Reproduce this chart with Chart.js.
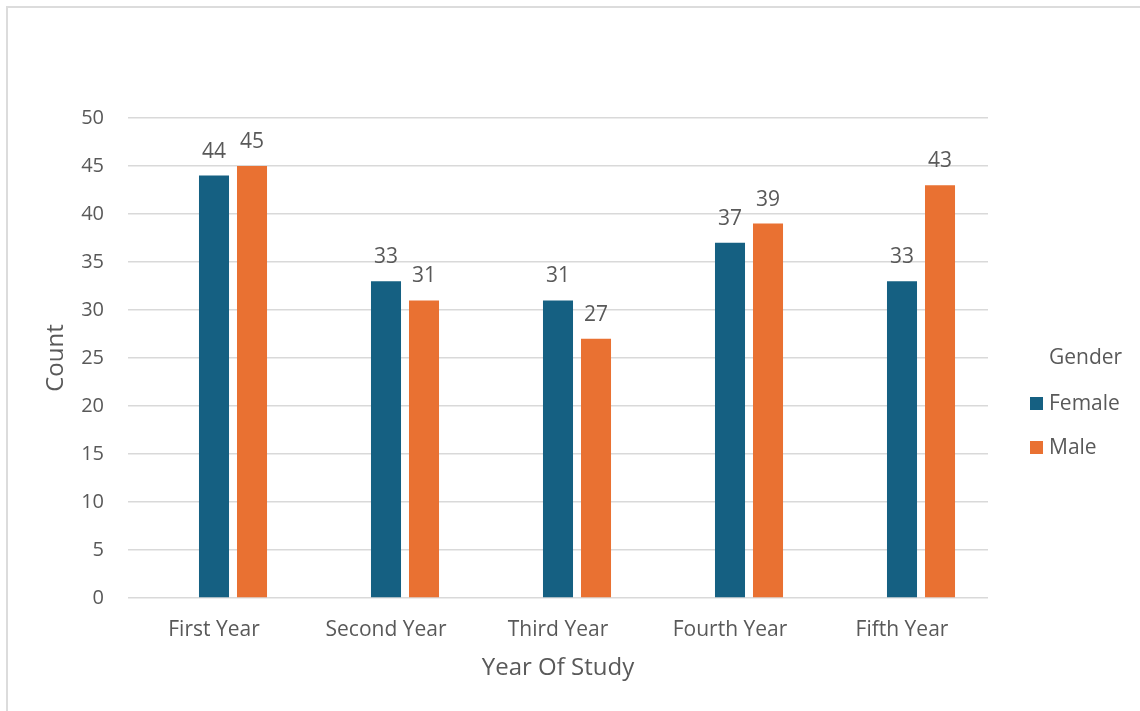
<!DOCTYPE html>
<html>
<head>
<meta charset="utf-8">
<script src="https://cdn.jsdelivr.net/npm/chart.js@4.4.1/dist/chart.umd.min.js"></script>
<style>
  html, body { margin: 0; padding: 0; background: #fff; }
  body { width: 1140px; height: 711px; position: relative; overflow: hidden; font-family: "Open Sans", sans-serif; }
  .frame { position: absolute; left: 6px; top: 6px; width: 1200px; height: 800px; border: 2px solid #dcdcdc; box-sizing: border-box; }
  #wrap { position: absolute; left: 0; top: 0; width: 1140px; height: 711px; }
  .legend { position: absolute; left: 1030px; top: 342px; color: #595959; font-size: 21px; }
  .legend .title { position: absolute; left: 19px; top: 0; white-space: nowrap; }
  .legend .item { position: absolute; left: 0; white-space: nowrap; line-height: 28px; }
  .legend .sw { display: inline-block; width: 13px; height: 13px; margin-right: 6px; vertical-align: 0px; }
</style>
</head>
<body>
<div class="frame"></div>
<div id="wrap"><canvas id="cGender" width="1140" height="711"></canvas></div>
<div class="legend" id="legend"></div>
<script>
// Year of study by gender (first slot is an empty/blank gender series, as in the source)
const YEARS = ['First Year', 'Second Year', 'Third Year', 'Fourth Year', 'Fifth Year'];
const BLANK = [null, null, null, null, null];
const FEMALE = [44, 33, 31, 37, 33];
const MALE = [45, 31, 27, 39, 43];
const SERIES = ['Female', 'Male'];
const COLORS = ['#156082', '#E97132'];
const Y_TICKS = [0, 5, 10, 15, 20, 25, 30, 35, 40, 45, 50];

const FONT = '"Open Sans", sans-serif';
const TEXT = '#595959';

// value labels above each bar
const barLabels = {
  id: 'barLabels',
  afterDatasetsDraw(chart) {
    const ctx = chart.ctx;
    ctx.save();
    ctx.font = '21px ' + FONT;
    ctx.fillStyle = TEXT;
    ctx.textAlign = 'center';
    ctx.textBaseline = 'alphabetic';
    chart.data.datasets.forEach((ds, i) => {
      chart.getDatasetMeta(i).data.forEach((bar, j) => {
        if (ds.data[j] == null) return;
        ctx.fillText(String(ds.data[j]), bar.x, bar.y - 18);
      });
    });
    ctx.restore();
  }
};

new Chart(document.getElementById('cGender'), {
  type: 'bar',
  data: {
    labels: YEARS,
    datasets: [
      { label: '(blank)', data: BLANK, backgroundColor: 'transparent' },
      { label: SERIES[0], data: FEMALE, backgroundColor: COLORS[0] },
      { label: SERIES[1], data: MALE, backgroundColor: COLORS[1] }
    ]
  },
  options: {
    responsive: false,
    animation: false,
    devicePixelRatio: 1,
    categoryPercentage: 0.663,
    barPercentage: 0.79,
    layout: { padding: { left: 0, top: 118, right: 152, bottom: 0 } },
    plugins: { legend: { display: false }, tooltip: { enabled: false } },
    scales: {
      x: {
        grid: { display: false, drawTicks: false },
        border: { display: false },
        ticks: { color: TEXT, font: { family: FONT, size: 21 }, padding: 19 },
        title: { display: true, text: 'Year Of Study', color: TEXT, font: { family: FONT, size: 24 }, padding: { top: 0, bottom: 28 } },
        afterFit(scale) { scale.height = 113; }
      },
      y: {
        min: 0,
        max: 50,
        afterBuildTicks(scale) { scale.ticks = Y_TICKS.map(v => ({ value: v })); },
        grid: { color: '#d9d9d9', lineWidth: 1.5, drawTicks: false },
        border: { display: false },
        ticks: { color: TEXT, font: { family: FONT, size: 20 }, padding: 24 },
        title: { display: true, text: 'Count', color: TEXT, font: { family: FONT, size: 24 }, padding: { top: 42, bottom: 0 } },
        afterFit(scale) { scale.width = 128; }
      }
    }
  },
  plugins: [barLabels]
});

// legend
const legend = document.getElementById('legend');
legend.innerHTML = '<div class="title">Gender</div>' + SERIES.map((s, i) =>
  `<div class="item" style="top:${46 + i * 44}px"><span class="sw" style="background:${COLORS[i]}"></span>${s}</div>`
).join('');
</script>
</body>
</html>
